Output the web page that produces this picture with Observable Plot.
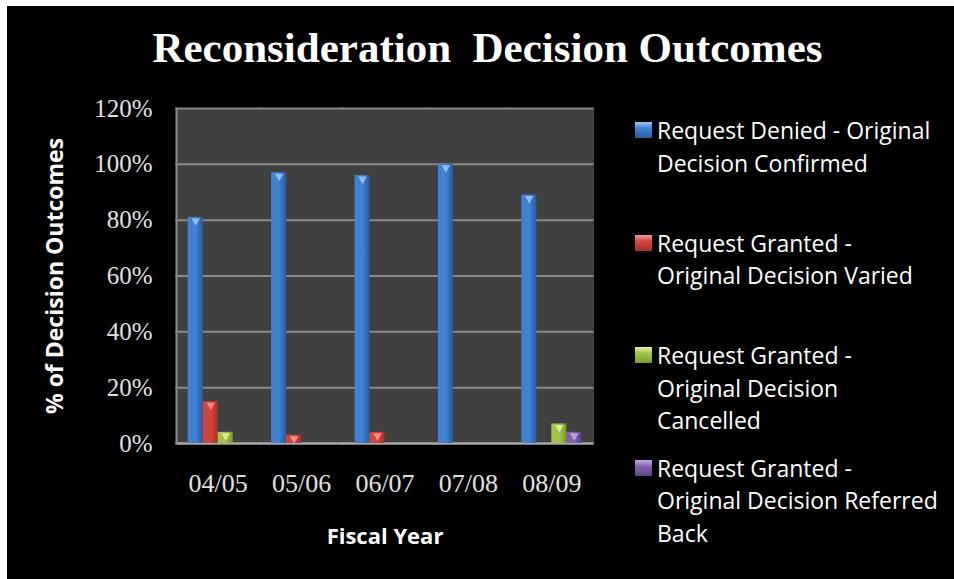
<!DOCTYPE html>
<html><head><meta charset="utf-8">
<script src="https://cdn.jsdelivr.net/npm/d3@7"></script>
<script src="https://cdn.jsdelivr.net/npm/@observablehq/plot@0.6"></script>
<style>
html,body{margin:0;padding:0;background:#fff;width:954px;height:579px;overflow:hidden;}
#card{position:absolute;left:7px;top:6px;width:947px;height:573px;background:#000;}
#title{position:absolute;left:7px;top:17px;width:947px;text-align:center;font:bold 43px "Liberation Serif",serif;line-height:50px;color:#fff;white-space:pre;}
#chart{position:absolute;left:0;top:84px;}
#legend{position:absolute;left:628px;top:108px;}
.item{display:flex;align-items:flex-start;height:112.5px;}
.sw{width:17px;height:16px;margin-top:8px;margin-right:5px;flex:none;}
.lab{font:23px "Open Sans",sans-serif;line-height:32.5px;color:#fff;white-space:nowrap;}
g[aria-label="y-axis label"], g[aria-label="y-axis label"] text{
  font-family:"Open Sans",sans-serif;font-weight:bold;font-size:23px;fill:#fff;
}
g[aria-label="fx-axis label"], g[aria-label="fx-axis label"] text{
  font-family:"Open Sans",sans-serif;font-weight:bold;font-size:22px;fill:#fff;
}
</style>
</head><body>
<div id="card">
  <div id="title"></div>
  <div id="chart"></div>
  <div id="legend"></div>
</div>
<script>
const titleText = "Reconsideration  Decision Outcomes";
const years = ["04/05", "05/06", "06/07", "07/08", "08/09"];
const seriesNames = [
  "Request Denied - Original Decision Confirmed",
  "Request Granted - Original Decision Varied",
  "Request Granted - Original Decision Cancelled",
  "Request Granted - Original Decision Referred Back"
];
const legendLines = [
  ["Request Denied - Original", "Decision Confirmed"],
  ["Request Granted -", "Original Decision Varied"],
  ["Request Granted -", "Original Decision", "Cancelled"],
  ["Request Granted -", "Original Decision Referred", "Back"]
];
const denied    = [0.81, 0.97, 0.96, 1.00, 0.89];
const varied    = [0.15, 0.03, 0.04, 0.00, 0.00];
const cancelled = [0.04, 0.00, 0.00, 0.00, 0.07];
const referred  = [0.00, 0.00, 0.00, 0.00, 0.04];
const yTicks = [0, 0.2, 0.4, 0.6, 0.8, 1.0, 1.2];
const darkColors  = ["#2a5c9c", "#a82f2b", "#7d9a2c", "#5c4484"];
const midColors   = ["#3f81d3", "#d0453f", "#a3c24a", "#8363b0"];
const lightColors = ["#9cc8f7", "#f59a94", "#e4f5a6", "#c0abe0"];

document.getElementById("title").textContent = titleText;

const values = [denied, varied, cancelled, referred];
const rows = [];
years.forEach((yr, i) => seriesNames.forEach((s, j) => rows.push({year: yr, series: s, idx: j, value: values[j][i]})));
const bars = rows.filter(d => d.value > 0);

const chart = Plot.plot({
  width: 620, height: 489,
  marginLeft: 169, marginRight: 34, marginTop: 18, marginBottom: 136,
  style: {background: "transparent", color: "#e0e0e0", overflow: "visible"},
  fx: {domain: years, padding: 0, round: false, label: null},
  x: {domain: seriesNames, paddingInner: 0, paddingOuter: 0.78, round: false, axis: null},
  y: {domain: [0, 1.2], label: null},
  color: {domain: seriesNames, range: seriesNames.map((s, j) => `url(#grad${j})`)},
  marks: [
    Plot.frame({fill: "#404040", stroke: null, insetLeft: -0.6, insetRight: -0.6}),
    Plot.ruleY(yTicks.filter(t => t > 0), {stroke: "#878787", strokeWidth: 2, insetLeft: -0.6, insetRight: -0.6}),
    Plot.ruleY([0], {stroke: "#a8a8a8", strokeWidth: 2.5, insetLeft: -0.6, insetRight: -0.6}),
    Plot.frame({anchor: "left", facetAnchor: "left", stroke: "#8c8c8c", strokeWidth: 2}),
    Plot.barY(bars, {fx: "year", x: "series", y: "value", fill: "series"}),
    Plot.dot(bars, {fx: "year", x: "series", y: "value", symbol: "triangle", rotate: 180, r: 3.2, dy: 3.5,
      fill: {value: d => lightColors[d.idx], scale: null}, fillOpacity: 0.85}),
    Plot.axisY({ticks: yTicks, tickFormat: d3.format(".0%"), tickSize: 0, tickPadding: 24,
      fontSize: 25, fontFamily: "Liberation Serif", fill: "#e0e0e0",
      label: "% of Decision Outcomes", labelAnchor: "center", labelOffset: 130, labelArrow: "none"}),
    Plot.axisFx({anchor: "bottom", tickSize: 0, tickPadding: 30, fontSize: 26, fontFamily: "Liberation Serif", fill: "#e0e0e0",
      label: "Fiscal Year", labelAnchor: "center", labelOffset: 100, labelArrow: "none"})
  ]
});

const svg = d3.select(chart.tagName.toLowerCase() === "svg" ? chart : chart.querySelector("svg"));
const defs = svg.insert("defs", ":first-child");
darkColors.forEach((dark, j) => {
  const g = defs.append("linearGradient").attr("id", `grad${j}`)
    .attr("x1", 0).attr("x2", 1).attr("y1", 0).attr("y2", 0);
  g.append("stop").attr("offset", "0%").attr("stop-color", midColors[j]);
  g.append("stop").attr("offset", "55%").attr("stop-color", midColors[j]);
  g.append("stop").attr("offset", "100%").attr("stop-color", dark);
});
document.getElementById("chart").appendChild(chart);

const legend = d3.select("#legend");
seriesNames.forEach((s, j) => {
  const item = legend.append("div").attr("class", "item");
  item.append("div").attr("class", "sw")
    .style("background", `linear-gradient(180deg, ${lightColors[j]} 0%, ${midColors[j]} 40%, ${darkColors[j]} 100%)`);
  const lab = item.append("div").attr("class", "lab");
  legendLines[j].forEach((line, k) => {
    if (k) lab.append("br");
    lab.append("span").text(line);
  });
});
</script>
</body></html>
